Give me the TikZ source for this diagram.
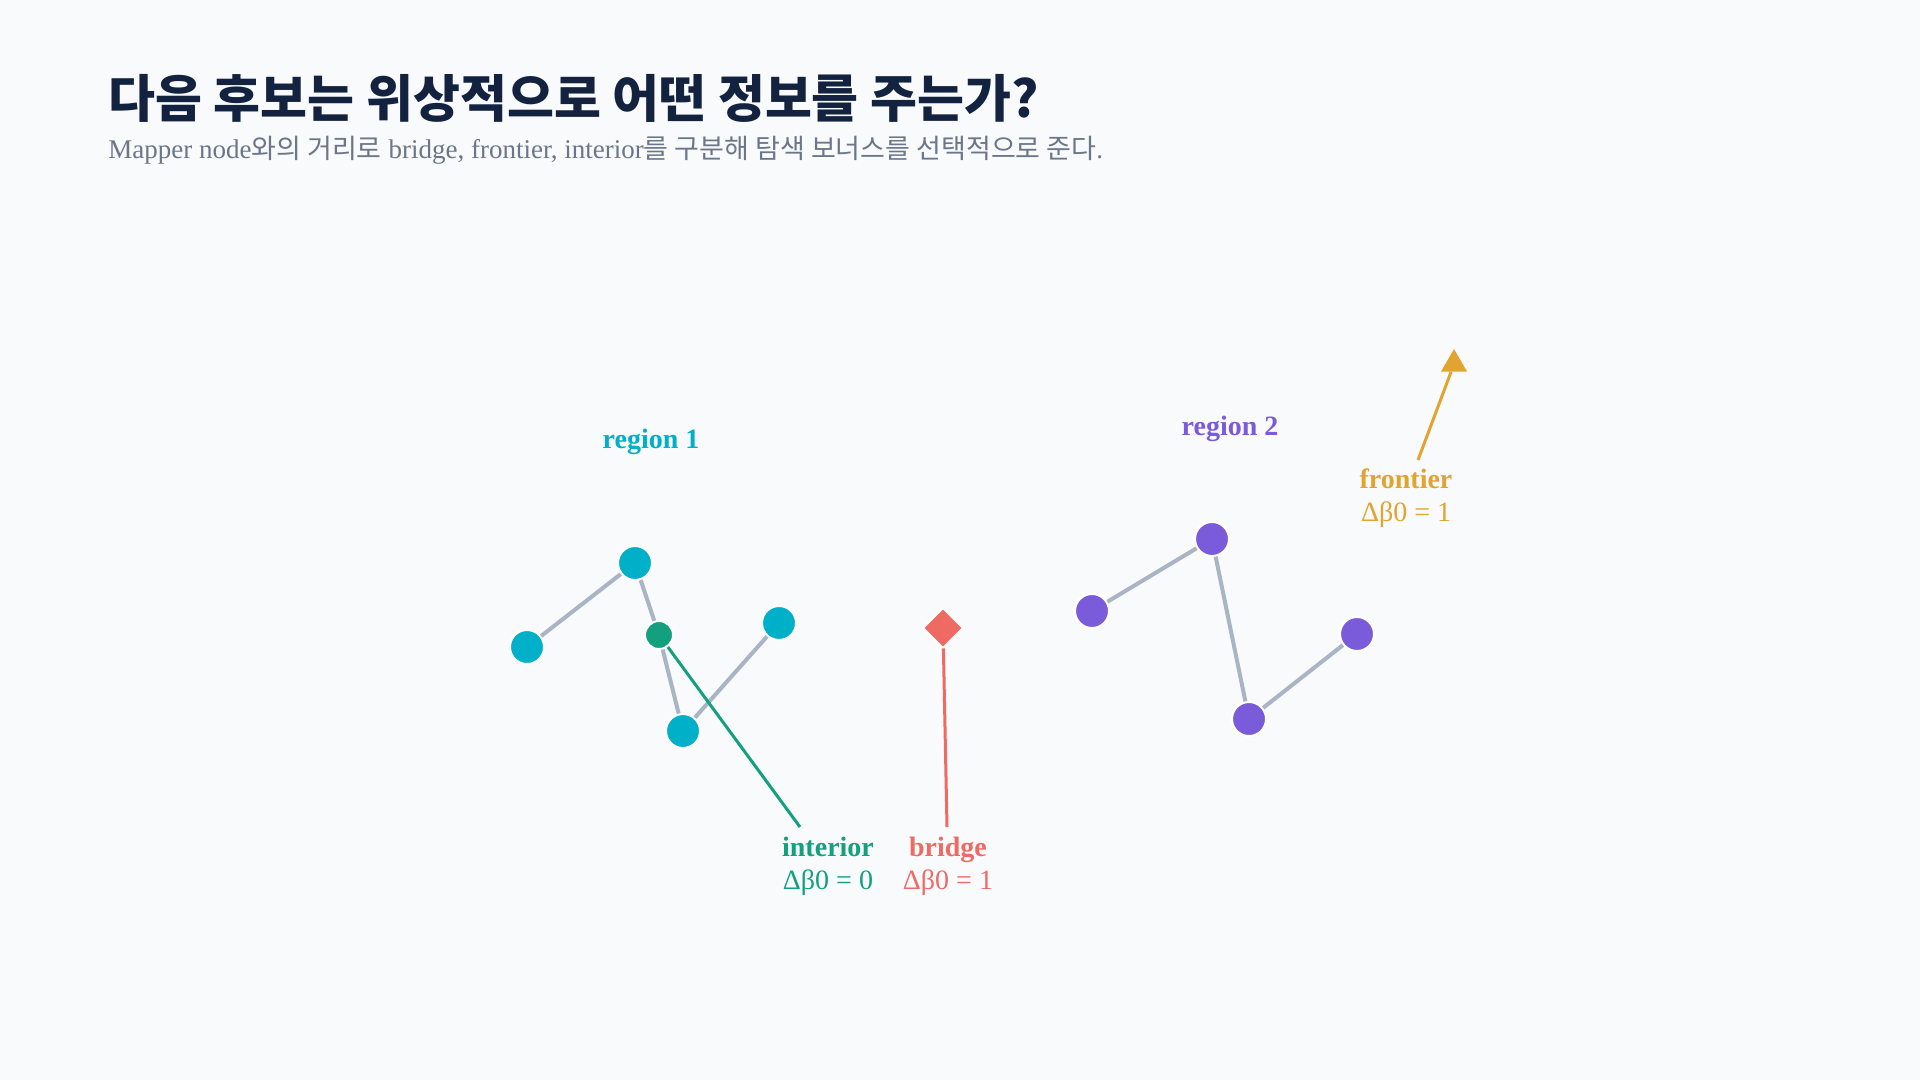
\documentclass[tikz,border=0pt]{standalone}
\usepackage{fontspec}
\setmainfont{Liberation Serif}
\newfontfamily\kr{Noto Sans CJK KR}
\usepackage{xcolor}
\usetikzlibrary{positioning,shapes.geometric}

\definecolor{bgc}{HTML}{F8FAFC}
\definecolor{ink}{HTML}{13223F}
\definecolor{subc}{HTML}{6B7689}
\definecolor{tealc}{HTML}{00AFC8}
\definecolor{intc}{HTML}{12A07E}
\definecolor{bridgec}{HTML}{EF6A63}
\definecolor{purc}{HTML}{7A5BDA}
\definecolor{frontc}{HTML}{E2A431}
\definecolor{edgec}{HTML}{A9B5C5}

\begin{document}
\begin{tikzpicture}[
    x=0.5pt,y=-0.5pt,
    pt/.style={circle,draw=white,line width=1pt,inner sep=0pt,minimum size=17pt,fill=#1},
    link/.style={draw=edgec,line width=2pt},
    lbl/.style={align=center,text=#1,font=\fontsize{14}{16.5}\selectfont},
    reg/.style={anchor=base,text=#1,font=\bfseries\fontsize{14}{16}\selectfont},
    callout/.style={draw=#1,line width=1.5pt}
  ]
  \fill[bgc] (0,0) rectangle (1920,1080);

  % title
  \node[anchor=base west,inner sep=0pt,text=ink,font=\kr\bfseries\fontsize{25.5}{30}\selectfont] (title) at (108,118)
    {다음 후보는 위상적으로 어떤 정보를 주는가?};
  \node[anchor=base west,inner sep=0pt,text=subc,font=\fontsize{13.5}{16}\selectfont] (sub) at (108,159)
    {Mapper node{\kr 와의 거리로} bridge, frontier, interior{\kr 를 구분해 탐색 보너스를 선택적으로 준다}.};

  % region 1
  \node[reg=tealc] (reg1) at (651,448) {region 1};
  \node[pt=tealc] (r1a) at (635,563) {};
  \node[pt=tealc] (r1b) at (527,647) {};
  \node[pt=tealc] (r1c) at (779,623) {};
  \node[pt=tealc] (r1d) at (683,731) {};
  \node[pt=intc,minimum size=14pt] (int) at (659,635) {};
  \draw[link] (r1b) -- (r1a);
  \draw[link] (r1a) -- (int);
  \draw[link] (int) -- (r1d);
  \draw[link] (r1d) -- (r1c);

  % region 2
  \node[reg=purc] (reg2) at (1230,435) {region 2};
  \node[pt=purc] (r2a) at (1092,611) {};
  \node[pt=purc] (r2b) at (1212,539) {};
  \node[pt=purc] (r2c) at (1249,719) {};
  \node[pt=purc] (r2d) at (1357,634) {};
  \draw[link] (r2a) -- (r2b);
  \draw[link] (r2b) -- (r2c);
  \draw[link] (r2c) -- (r2d);

  % candidates
  \node[diamond,fill=bridgec,draw=white,line width=0.8pt,inner sep=0pt,minimum width=20pt,minimum height=20pt] (bridge) at (943,628) {};
  \node[regular polygon,regular polygon sides=3,fill=frontc,inner sep=0pt,minimum size=15pt] (front) at (1454,364) {};

  % labels
  \node[lbl=intc] (intlbl) at (828,866) {\textbf{interior}\\Δβ0 = 0};
  \node[lbl=bridgec] (brlbl) at (948,866) {\textbf{bridge}\\Δβ0 = 1};
  \node[lbl=frontc] (frlbl) at (1406,498) {\textbf{frontier}\\Δβ0 = 1};
  \coordinate (intfoot) at (800,827);
  \coordinate (brfoot) at (947,827);
  \coordinate (frfoot) at (1418,460);
  \draw[callout=intc] (intfoot) -- (int);
  \draw[callout=bridgec] (brfoot) -- (bridge);
  \draw[callout=frontc] (frfoot) -- (front);
\end{tikzpicture}
\end{document}
